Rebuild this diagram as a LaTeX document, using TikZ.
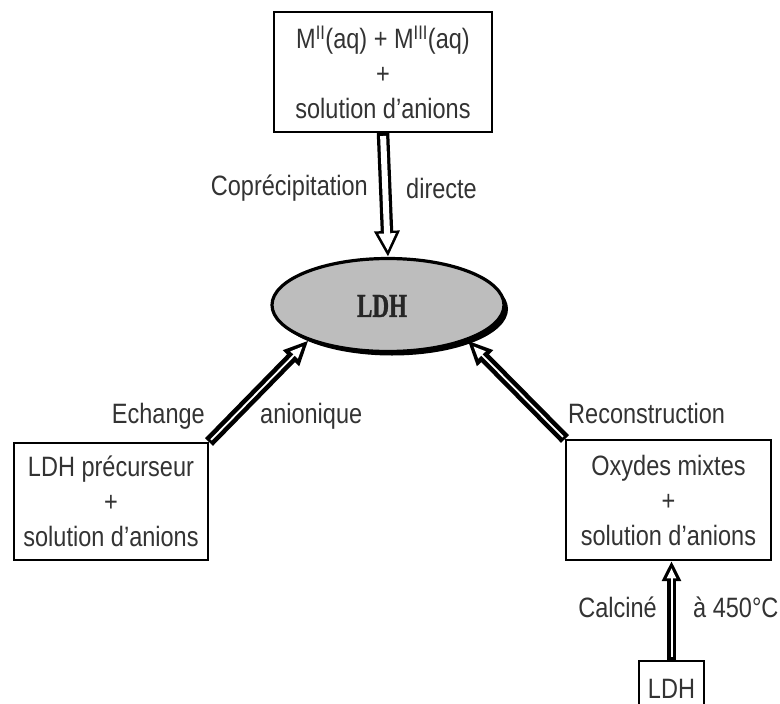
\documentclass[tikz,border=0pt]{standalone}
\usepackage{fontspec}
\setmainfont[FakeStretch=0.84]{Liberation Sans}
\newfontfamily\serifbf[FakeBold=1.2]{Liberation Serif}
\usetikzlibrary{arrows.meta,shapes.geometric,shadows}
\definecolor{txt}{HTML}{333333}
\definecolor{ellfill}{HTML}{BDBDBD}
\tikzset{
  box/.style={draw=black, line width=2pt, fill=white, align=center, inner sep=0pt,
    font=\fontsize{28}{35}\selectfont, text=txt},
  lbl/.style={font=\fontsize{28}{35}\selectfont, text=txt, inner sep=0pt},
  aout/.style n args={3}{draw=black, line width=#1, -{Triangle[length=#2,width=#3]}},
  ain/.style n args={4}{draw=white, line width=#1, -{Triangle[length=#2,width=#3]},
    shorten >=#4, shorten <=3pt},
}
\begin{document}
\begin{tikzpicture}[x=1pt,y=-1pt]
\useasboundingbox (0,0) rectangle (780,704);
\clip (0,0) rectangle (780,704);
% boxes
\node[box, minimum width=218pt, minimum height=120pt] (top) at (383,72)
  {M\textsuperscript{II}(aq) + M\textsuperscript{III}(aq)\\+\\solution d'anions};
\node[box, minimum width=194pt, minimum height=117pt] (left) at (111,501.5)
  {LDH précurseur\\+\\solution d'anions};
\node[box, minimum width=205pt, minimum height=120pt] (right) at (668.5,500)
  {Oxydes mixtes\\+\\solution d'anions};
\node[box, minimum width=65pt, minimum height=64pt, anchor=north] (bot) at (671.5,660)
  {\raisebox{8pt}{LDH}};
% ellipse
\node[ellipse, draw=black, line width=3.2pt, fill=ellfill, minimum width=232pt, minimum height=93pt,
  drop shadow={shadow xshift=4pt, shadow yshift=-4pt, fill=black, opacity=1}] (ldh) at (388,305) {};
\node[text=black!85, inner sep=0pt] (ldht) at ([xshift=-6pt,yshift=-1pt]ldh.center)
  {\resizebox{50pt}{22pt}{\serifbf\bfseries LDH}};
% arrows (outline, then white interior)
\draw[aout={12.5pt}{26pt}{24pt}] (top.south) -- (ldh.north);
\draw[ain={6pt}{17.5pt}{16pt}{6pt}] (top.south) -- (ldh.north);
\draw[aout={11pt}{25pt}{21pt}] (left.north east) -- (ldh.204);
\draw[ain={1.8pt}{12pt}{10pt}{8.5pt}] (left.north east) -- (ldh.204);
\draw[aout={11pt}{25pt}{21pt}] (right.north west) -- (ldh.336);
\draw[ain={1.8pt}{12pt}{10pt}{8.5pt}] (right.north west) -- (ldh.336);
\draw[aout={9pt}{20pt}{18pt}] (bot.north) -- (right.south -| bot.north);
\draw[ain={2pt}{10pt}{9pt}{7.3pt}] (bot.north) -- (right.south -| bot.north);
% labels
\node[lbl, anchor=east] (l1) at (368,188) {Coprécipitation};
\node[lbl, anchor=west] (l2) at (406,188) {directe};
\node[lbl, anchor=east] (l3) at (205,416) {Echange};
\node[lbl, anchor=west] (l4) at (260,416) {anionique};
\node[lbl, anchor=west] (l5) at (568,413) {Reconstruction};
\node[lbl, anchor=east] (l6) at (657,607) {Calciné};
\node[lbl, anchor=west] (l7) at (693,607) {à 450°C};
\end{tikzpicture}
\end{document}
